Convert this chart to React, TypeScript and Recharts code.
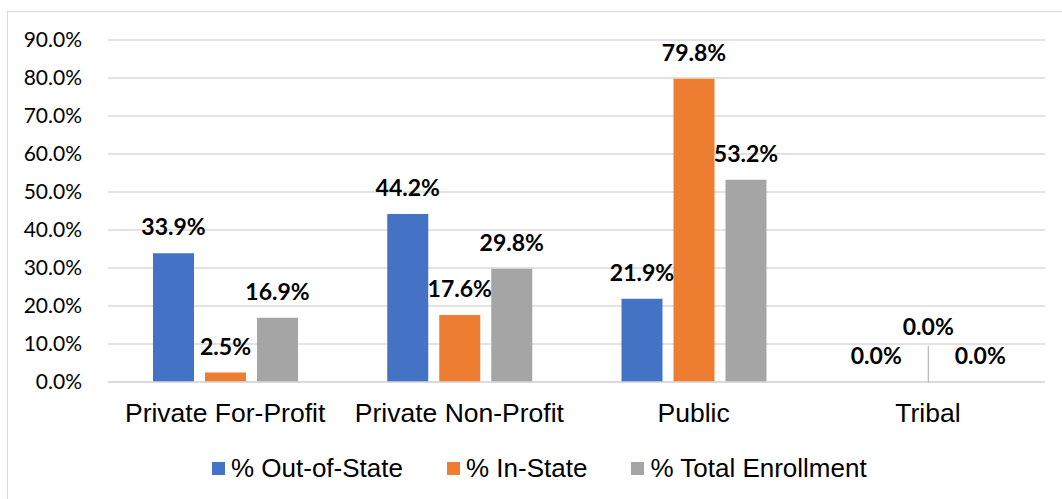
import { BarChart, Bar, XAxis, YAxis, CartesianGrid, Legend, LabelList } from "recharts";

const categories = ["Private For-Profit", "Private Non-Profit", "Public", "Tribal"];
const outOfState = [33.9, 44.2, 21.9, 0.0];
const inState = [2.5, 17.6, 79.8, 0.0];
const totalEnrollment = [16.9, 29.8, 53.2, 0.0];
const yTicks = [0, 10, 20, 30, 40, 50, 60, 70, 80, 90];

const data = categories.map((name, i) => ({
  name,
  a_out: outOfState[i],
  b_in: inState[i],
  c_total: totalEnrollment[i],
}));

const labelFont = "Lato, 'Open Sans', sans-serif";
const arial = "'Liberation Sans', Arial, sans-serif";
const fmt = (v: any) => `${Number(v).toFixed(1)}%`;

// In-State label for a zero bar gets pulled up with a small leader line (as in the source)
const InStateLabel = (props: any) => {
  const { x, y, width, value } = props;
  const cx = x + width / 2;
  if (Number(value) === 0) {
    return (
      <g>
        <line x1={cx} y1={y - 36} x2={cx} y2={y} stroke="#a5a5a5" strokeWidth={1} />
        <text x={cx} y={y - 47} textAnchor="middle" fontFamily={labelFont} fontWeight={700} fontSize={23} fill="#000">
          {fmt(value)}
        </text>
      </g>
    );
  }
  return (
    <text x={cx} y={y - 18} textAnchor="middle" fontFamily={labelFont} fontWeight={700} fontSize={23} fill="#000">
      {fmt(value)}
    </text>
  );
};

const TopLabel = (props: any) => {
  const { x, y, width, value } = props;
  return (
    <text x={x + width / 2} y={y - 18} textAnchor="middle" fontFamily={labelFont} fontWeight={700} fontSize={23} fill="#000">
      {fmt(value)}
    </text>
  );
};

const LegendContent = ({ payload }: any) => (
  <div style={{ display: "flex", alignItems: "center", gap: 44, height: 24, fontFamily: arial, fontSize: 26, color: "#000" }}>
    {(payload || []).map((p: any) => (
      <div key={p.value} style={{ display: "flex", alignItems: "center", whiteSpace: "nowrap" }}>
        <span style={{ display: "inline-block", width: 13, height: 13, background: p.color, marginRight: 6 }} />
        <span style={{ lineHeight: "24px" }}>{p.value}</span>
      </div>
    ))}
  </div>
);

export default function App() {
  return (
    <div style={{ position: "absolute", left: 0, top: 0, width: 1062, height: 499, background: "#fff", overflow: "hidden" }}>
      <div
        style={{
          position: "absolute",
          left: 7,
          top: 11,
          width: 1062,
          height: 499,
          borderLeft: "1px solid #d9d9d9",
          borderTop: "1px solid #d9d9d9",
        }}
      />
      <div style={{ position: "absolute", left: 0, top: 0 }}>
        <BarChart
          width={1062}
          height={499}
          data={data}
          margin={{ top: 40, right: 17, bottom: 53, left: 8 }}
          barSize={41}
          barGap={11}
        >
          <CartesianGrid vertical={false} stroke="#d9d9d9" strokeWidth={1.5} />
          <XAxis
            dataKey="name"
            axisLine={{ stroke: "#d9d9d9", strokeWidth: 1.5 }}
            tickLine={false}
            height={40}
            tickMargin={15}
            tick={{ fontFamily: arial, fontSize: 26.5, fill: "#000" }}
            interval={0}
          />
          <YAxis
            domain={[0, 90]}
            ticks={yTicks}
            width={100}
            axisLine={false}
            tickLine={false}
            tickMargin={20}
            tickFormatter={(v: number) => `${v.toFixed(1)}%`}
            tick={{ fontFamily: labelFont, fontSize: 21, fill: "#000" }}
          />
          <Legend
            verticalAlign="bottom"
            itemSorter="dataKey"
            content={LegendContent}
            wrapperStyle={{ top: 456, bottom: "auto", left: 212, width: 720, height: 24 }}
          />
          <Bar dataKey="a_out" name="% Out-of-State" fill="#4472C4" minPointSize={0.01} isAnimationActive={false}>
            <LabelList dataKey="a_out" content={TopLabel} />
          </Bar>
          <Bar dataKey="b_in" name="% In-State" fill="#ED7D31" minPointSize={0.01} isAnimationActive={false}>
            <LabelList dataKey="b_in" content={InStateLabel} />
          </Bar>
          <Bar dataKey="c_total" name="% Total Enrollment" fill="#A5A5A5" minPointSize={0.01} isAnimationActive={false}>
            <LabelList dataKey="c_total" content={TopLabel} />
          </Bar>
        </BarChart>
      </div>
    </div>
  );
}
